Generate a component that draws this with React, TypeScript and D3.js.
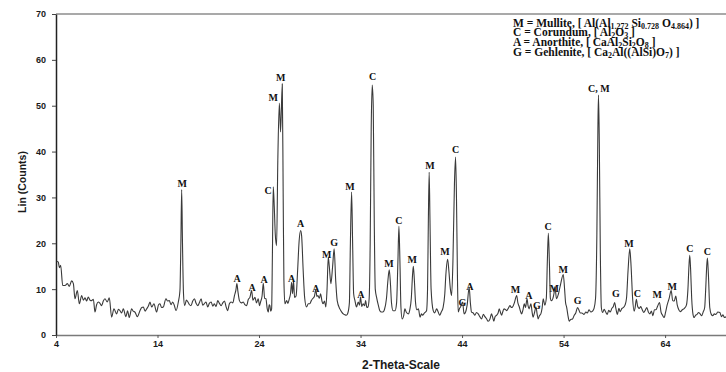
import React, { useEffect, useRef } from 'react';
import * as d3 from 'd3';

// XRD scan: [2-theta, Lin (counts)]
const scan: [number, number][] = [
  [4.07, 16.1], [4.23, 15.9], [4.33, 14.7], [4.46, 15.2], [4.66, 10.8], [4.89, 10.8], [5.12, 11.2], [5.31, 10.6],
  [5.54, 11.8], [5.71, 11.2], [5.87, 7.9], [6.1, 9.7], [6.3, 6.8], [6.53, 8.6], [6.7, 7.6], [6.86, 8.1], [7.02, 7.4],
  [7.18, 8.3], [7.35, 7.6], [7.51, 7.5], [7.68, 7.8], [7.84, 5.0], [8.0, 6.6], [8.17, 7.2], [8.33, 6.9], [8.5, 6.4],
  [8.66, 7.4], [8.82, 7.9], [9.05, 7.2], [9.25, 8.1], [9.48, 3.9], [9.71, 5.7], [9.97, 4.6], [10.15, 5.6], [10.3, 5.3],
  [10.47, 4.8], [10.63, 5.7], [10.89, 4.0], [11.05, 5.3], [11.22, 3.8], [11.45, 5.7], [11.6, 5.2], [11.78, 5.0],
  [12.01, 4.0], [12.27, 5.3], [12.45, 6.0], [12.6, 6.1], [12.78, 5.2], [12.93, 5.7], [13.1, 6.3], [13.26, 7.2],
  [13.42, 6.1], [13.65, 6.8], [13.91, 5.0], [14.1, 6.6], [14.24, 6.8], [14.4, 6.0], [14.57, 6.1], [14.83, 7.9],
  [15.0, 7.4], [15.16, 7.5], [15.33, 6.6], [15.49, 7.2], [15.65, 6.5], [15.82, 5.3], [16.05, 7.2], [16.21, 9.7],
  [16.3, 20], [16.38, 31.7], [16.46, 20], [16.56, 9], [16.67, 6.4], [16.85, 7.6], [17.0, 7.2], [17.15, 6.6],
  [17.3, 6.4], [17.47, 7.4], [17.64, 7.9], [17.8, 6.9], [17.97, 6.4], [18.13, 7.1], [18.3, 7.9], [18.45, 6.5],
  [18.6, 6.8], [18.78, 7.2], [18.95, 6.1], [19.1, 6.9], [19.28, 7.2], [19.45, 6.3], [19.6, 6.8], [19.77, 6.2],
  [19.93, 7.5], [20.1, 6.9], [20.26, 6.4], [20.43, 7.0], [20.6, 7.4], [20.75, 6.2], [20.9, 5.3], [21.08, 6.8],
  [21.25, 7.2], [21.42, 7.0], [21.58, 8.6], [21.72, 9.8], [21.82, 11.2], [21.92, 9.5], [22.07, 7.5], [22.25, 7.0],
  [22.45, 7.2], [22.6, 6.6], [22.77, 6.4], [22.95, 7.8], [23.1, 8.2], [23.27, 9.7], [23.4, 7.6], [23.6, 8.2],
  [23.75, 7.0], [23.92, 7.9], [24.05, 6.4], [24.15, 7.2], [24.3, 8.5], [24.42, 11.3], [24.55, 8.0], [24.68, 7.9],
  [24.8, 5.8], [24.91, 5.0], [25.0, 6.6], [25.07, 6.4], [25.15, 5.2], [25.24, 5.7], [25.32, 18], [25.4, 32.3],
  [25.5, 28], [25.6, 22], [25.73, 19.5], [25.85, 38], [26.0, 50.6], [26.12, 44.3], [26.29, 54.8], [26.38, 30],
  [26.45, 12], [26.55, 6.8], [26.72, 7.5], [26.85, 6.9], [26.98, 7.9], [27.1, 9], [27.21, 11.5], [27.3, 9],
  [27.4, 11.8], [27.5, 8.2], [27.65, 8.5], [27.8, 14], [27.95, 20.5], [28.1, 22.8], [28.2, 21.5], [28.35, 14],
  [28.5, 8], [28.68, 6.1], [28.85, 6.8], [29.0, 6.8], [29.15, 7.5], [29.27, 7.9], [29.45, 8.4], [29.6, 9.9],
  [29.7, 8.4], [29.8, 8.6], [29.95, 8.0], [30.06, 9.0], [30.2, 7.4], [30.3, 6.8], [30.45, 7.4], [30.58, 6.1],
  [30.7, 10], [30.82, 17.0], [30.92, 15], [31.08, 11.2], [31.25, 15], [31.4, 18.8], [31.55, 12], [31.7, 7.5],
  [31.96, 5.7], [32.15, 5.0], [32.3, 4.6], [32.45, 4.4], [32.6, 4.3], [32.75, 4.8], [32.9, 7], [33.0, 20],
  [33.12, 31.2], [33.22, 20], [33.32, 9], [33.45, 7.5], [33.6, 6.1], [33.77, 7.2], [33.9, 6.5], [34.0, 8.3],
  [34.12, 6.2], [34.25, 6.8], [34.4, 6.4], [34.5, 7.5], [34.62, 6.0], [34.73, 6.1], [34.85, 8], [34.95, 20],
  [35.05, 45], [35.15, 54.5], [35.25, 50], [35.35, 25], [35.45, 10], [35.6, 8.0], [35.75, 6.5], [35.9, 5.3],
  [36.05, 5.0], [36.2, 5.0], [36.35, 5.5], [36.55, 7.9], [36.7, 12], [36.83, 14.2], [36.95, 11], [37.05, 7],
  [37.2, 5.3], [37.4, 5.3], [37.55, 7], [37.68, 16], [37.78, 23.7], [37.88, 16], [37.98, 6], [38.1, 3.5],
  [38.25, 4.2], [38.37, 5.7], [38.5, 5.0], [38.7, 4.6], [38.85, 5.5], [39.0, 8], [39.12, 13], [39.2, 15.0],
  [39.3, 12], [39.42, 7], [39.55, 5.5], [39.7, 5.7], [39.86, 3.9], [40.0, 4.6], [40.1, 4.3], [40.3, 4.8],
  [40.5, 5.3], [40.6, 10], [40.68, 25], [40.76, 35.5], [40.84, 25], [40.95, 10], [41.16, 5.3], [41.3, 4.8],
  [41.5, 5.7], [41.65, 5.0], [41.8, 4.3], [41.95, 5.0], [42.14, 6.1], [42.3, 9], [42.4, 13], [42.58, 16.5],
  [42.7, 14], [42.85, 10], [42.97, 8.6], [43.1, 16], [43.25, 33], [43.36, 38.8], [43.45, 30], [43.55, 12],
  [43.62, 5.0], [43.75, 5.8], [43.85, 6.1], [44.05, 7.2], [44.2, 4.6], [44.35, 5.0], [44.5, 6.5], [44.7, 10.4],
  [44.82, 7], [44.93, 5.0], [45.1, 4.8], [45.26, 4.3], [45.42, 4.9], [45.59, 4.6], [45.75, 4.0], [45.92, 3.5],
  [46.1, 4.5], [46.25, 4.0], [46.4, 3.6], [46.57, 3.0], [46.75, 3.5], [46.9, 4.6], [47.0, 4.0], [47.13, 3.0],
  [47.25, 4.0], [47.4, 4.3], [47.55, 4.8], [47.66, 5.7], [47.8, 4.8], [47.9, 4.3], [48.0, 5.0], [48.13, 5.7],
  [48.3, 5.5], [48.4, 5.3], [48.55, 5.8], [48.72, 6.4], [48.85, 6.0], [48.98, 6.1], [49.15, 7.0], [49.38, 8.6],
  [49.5, 7.0], [49.64, 6.1], [49.75, 5.2], [49.87, 4.6], [50.0, 5.5], [50.13, 6.8], [50.25, 6.0], [50.4, 7.9],
  [50.5, 6.4], [50.6, 5.7], [50.7, 6.3], [50.78, 6.8], [50.9, 5.0], [51.0, 3.9], [51.15, 5.0], [51.28, 6.1],
  [51.4, 4.5], [51.5, 3.5], [51.62, 4.2], [51.76, 4.6], [51.88, 5.8], [52.0, 7.9], [52.15, 6.5], [52.3, 8],
  [52.4, 16], [52.5, 22.2], [52.6, 16], [52.7, 8], [52.8, 7.5], [52.95, 8], [53.05, 9], [53.15, 10.5],
  [53.3, 7.9], [53.5, 9], [53.7, 11], [53.97, 13.2], [54.1, 10], [54.2, 7], [54.3, 6.1], [54.45, 4.0],
  [54.56, 3.0], [54.7, 3.4], [54.88, 3.5], [55.05, 4.3], [55.2, 4.8], [55.38, 6.0], [55.5, 5.5], [55.65, 4.8],
  [55.8, 4.8], [56.01, 4.5], [56.2, 5.0], [56.35, 4.8], [56.5, 5.5], [56.7, 5.0], [56.85, 5.2], [57.0, 5.8],
  [57.15, 8], [57.28, 22], [57.38, 45], [57.44, 52.3], [57.52, 42], [57.62, 18], [57.72, 6], [57.85, 4.9],
  [58.0, 5.6], [58.15, 5.0], [58.3, 4.5], [58.45, 5.4], [58.6, 5.0], [58.75, 5.8], [58.9, 6.2], [59.03, 7.1],
  [59.15, 5.8], [59.3, 4.5], [59.45, 5.8], [59.58, 5.1], [59.75, 5.8], [59.9, 6.0], [60.05, 6.5], [60.2, 8],
  [60.35, 14], [60.52, 18.8], [60.65, 15], [60.8, 8], [60.95, 5.2], [61.05, 6], [61.17, 7.8], [61.3, 6.2],
  [61.45, 5.8], [61.6, 6.2], [61.75, 5.5], [61.9, 4.9], [62.05, 5.4], [62.2, 6.0], [62.35, 5.0], [62.5, 4.6],
  [62.65, 5.2], [62.8, 4.2], [62.95, 5.5], [63.1, 5.5], [63.25, 6.2], [63.45, 7.1], [63.6, 5.0], [63.75, 4.3],
  [63.91, 3.8], [64.05, 5], [64.2, 6.5], [64.4, 8], [64.6, 9.7], [64.75, 7.5], [64.9, 7.4], [65.05, 8.5],
  [65.2, 6.5], [65.35, 5.5], [65.5, 5.1], [65.7, 5.5], [65.9, 5.8], [66.1, 6.5], [66.25, 10], [66.35, 15],
  [66.43, 17.4], [66.52, 14], [66.62, 8], [66.75, 4.5], [66.86, 3.8], [67.0, 4.3], [67.15, 4.5], [67.3, 4.9],
  [67.45, 4.6], [67.6, 4.2], [67.75, 5.0], [67.9, 6], [68.0, 10], [68.1, 15], [68.17, 16.8], [68.27, 13],
  [68.4, 6], [68.55, 4.5], [68.7, 4.2], [68.85, 4.6], [69.0, 4.5], [69.2, 5.0], [69.4, 4.9], [69.55, 4.0],
  [69.7, 4.4], [69.85, 3.8], [70.0, 4.0],
];

const xTicks = [4, 14, 24, 34, 44, 54, 64];
const yTicks = [0, 10, 20, 30, 40, 50, 60, 70];

// phase marks: letter, 2-theta, counts where the letter sits
const peakText = ['M', 'A', 'A', 'A', 'C', 'M', 'M', 'A', 'A', 'A', 'M', 'G', 'M', 'A', 'C', 'M', 'C', 'M', 'M',
  'M', 'C', 'G', 'A', 'M', 'A', 'G', 'C', 'M', 'M', 'G', 'C, M', 'G', 'M', 'C', 'M', 'M', 'C', 'C'];
const peakTheta = [16.44, 21.85, 23.33, 24.51, 24.9, 25.4, 26.13, 27.21, 28.1, 29.6, 30.66, 31.4, 32.95, 34.03,
  35.19, 36.79, 37.78, 39.09, 40.83, 42.31, 43.36, 44.03, 44.77, 49.25, 50.58, 51.37, 52.48, 53.09, 53.96, 55.38,
  57.47, 59.15, 60.45, 61.27, 63.23, 64.71, 66.43, 68.17];
const peakLin = [32.3, 11.5, 9.7, 11.3, 30.8, 51.0, 55.4, 11.5, 23.5, 9.3, 16.9, 19.3, 31.7, 8.1, 55.6, 14.8,
  24.3, 15.7, 36.1, 17.4, 39.6, 6.4, 9.9, 9.2, 7.8, 5.7, 22.8, 9.3, 13.6, 6.7, 53.0, 8.2, 19.2, 8.3, 8.0, 9.8,
  18.1, 17.4];

// legend rows: [text, is subscript]
const legendRows: [string, boolean][][] = [
  [['M = Mullite, [ Al(Al', false], ['1.272', true], [' Si', false], ['0.728', true], [' O', false], ['4.864', true], [') ]', false]],
  [['C = Corundum, [ Al', false], ['2', true], ['O', false], ['3', true], [' ]', false]],
  [['A = Anorthite, [ CaAl', false], ['2', true], ['Si', false], ['2', true], ['O', false], ['8', true], [' ]', false]],
  [['G = Gehlenite, [ Ca', false], ['2', true], ['Al((AlSi)O', false], ['7', true], [') ]', false]],
];

export default function App() {
  const ref = useRef<SVGSVGElement>(null);

  useEffect(() => {
    const width = 726, height = 372;
    const margin = { top: 14, right: 0, bottom: 37, left: 56 };
    const svg = d3.select(ref.current);
    svg.selectAll('*').remove();

    const x = d3.scaleLinear().domain([4, 70]).range([margin.left, width - margin.right]);
    const y = d3.scaleLinear().domain([0, 70]).range([height - margin.bottom, margin.top]);

    // top frame line
    svg.append('line')
      .attr('x1', margin.left).attr('x2', width)
      .attr('y1', margin.top).attr('y2', margin.top)
      .attr('stroke', '#8c8c8c').attr('stroke-width', 1.5);

    const gx = svg.append('g')
      .attr('transform', 'translate(0,' + (height - margin.bottom) + ')')
      .call(d3.axisBottom(x).tickValues(xTicks).tickSize(3).tickSizeOuter(0).tickPadding(3));
    gx.select('.domain').attr('stroke', '#7a7a7a').attr('stroke-width', 1.5);
    gx.selectAll('.tick line').attr('stroke', '#555');
    gx.selectAll('.tick text')
      .attr('fill', '#1a1a1a')
      .style('font', 'bold 9px Arial, "Liberation Sans", sans-serif');

    const gy = svg.append('g')
      .attr('transform', 'translate(' + margin.left + ',0)')
      .call(d3.axisLeft(y).tickValues(yTicks).tickSize(4).tickSizeOuter(0).tickPadding(6));
    gy.select('.domain').attr('stroke', '#222').attr('stroke-width', 1.5);
    gy.selectAll('.tick line').attr('stroke', '#444');
    gy.selectAll('.tick text')
      .attr('fill', '#1a1a1a')
      .style('font', 'bold 9px Arial, "Liberation Sans", sans-serif');

    const line = d3.line<[number, number]>()
      .x(d => x(d[0]))
      .y(d => y(d[1]))
      .curve(d3.curveMonotoneX);

    svg.append('path')
      .datum(scan)
      .attr('d', line)
      .attr('fill', 'none')
      .attr('stroke', '#3a3a3a')
      .attr('stroke-width', 1.1)
      .attr('stroke-linejoin', 'round');

    // peak letters
    svg.append('g')
      .selectAll('text')
      .data(peakText)
      .enter()
      .append('text')
      .attr('x', (d, i) => x(peakTheta[i]))
      .attr('y', (d, i) => y(peakLin[i]))
      .attr('text-anchor', 'middle')
      .attr('fill', '#111')
      .style('font', 'bold 10px "Liberation Serif", "Times New Roman", serif')
      .text(d => d);

    // legend
    const lg = svg.append('g');
    legendRows.forEach((row, r) => {
      const t = lg.append('text')
        .attr('x', 513)
        .attr('y', 26.5 + r * 9.8)
        .attr('fill', '#111')
        .style('font', 'bold 11.5px "Liberation Serif", "Times New Roman", serif');
      let down = false;
      row.forEach(([s, sub]) => {
        const ts = t.append('tspan').text(s);
        if (sub) {
          ts.style('font-size', '8px');
          if (!down) { ts.attr('dy', 2); down = true; }
        } else if (down) {
          ts.attr('dy', -2);
          down = false;
        }
      });
    });

    svg.append('text')
      .attr('x', 401)
      .attr('y', 369)
      .attr('text-anchor', 'middle')
      .attr('fill', '#1a1a1a')
      .style('font', 'bold 12px Arial, "Liberation Sans", sans-serif')
      .text('2-Theta-Scale');

    svg.append('text')
      .attr('transform', 'translate(26,182) rotate(-90)')
      .attr('text-anchor', 'middle')
      .attr('fill', '#1a1a1a')
      .style('font', 'bold 10.5px Arial, "Liberation Sans", sans-serif')
      .text('Lin (Counts)');
  }, []);

  return (
    <svg ref={ref} width={726} height={372}
      style={{ position: 'absolute', left: 0, top: 0, background: '#fff' }} />
  );
}
